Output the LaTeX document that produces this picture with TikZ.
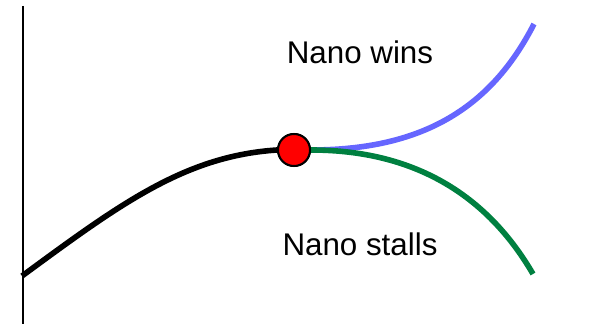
\documentclass[tikz,border=0pt]{standalone}
\usepackage{fontspec}
\setmainfont{Liberation Sans}
\definecolor{winblue}{RGB}{102,102,255}
\definecolor{stallgreen}{RGB}{0,128,64}
\begin{document}
\begin{tikzpicture}[x=0.75pt,y=-0.75pt,
  curve/.style={line width=4.2pt},
  dot/.style={circle, fill=red, draw=black, line width=1.5pt, minimum size=32*0.75pt, inner sep=0pt},
  lbl/.style={font=\fontsize{23.5}{26}\selectfont, inner sep=0pt}]
\useasboundingbox (0,0) rectangle (604,324);
\coordinate (top) at (22.5,6);
\coordinate (bot) at (22.5,324);
\draw[line width=1.5pt] (top) -- (bot);
\coordinate (start) at (22,276);
\coordinate (wend) at (534,24);
\coordinate (send) at (533,274);
\node[dot] (pt) at (294,150) {};
\draw[curve, winblue] (pt.east) .. controls (420,150) and (490,110) .. (wend);
\draw[curve, stallgreen] (pt.east) .. controls (420,150) and (490,200) .. (send);
\draw[curve, black] (start) .. controls (120,204) and (185,156) .. (pt.west);
\node[dot] at (294,150) {};
\node[lbl] (wins) at (360,52) {Nano wins};
\node[lbl] (stalls) at (360,244) {Nano stalls};
\end{tikzpicture}
\end{document}
